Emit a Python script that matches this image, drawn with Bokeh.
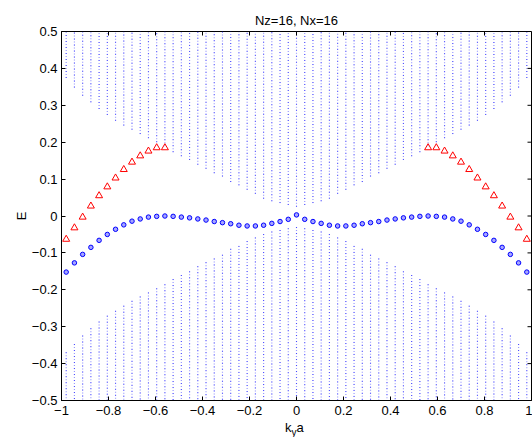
from bokeh.plotting import figure
from bokeh.layouts import column
from bokeh.models import FixedTicker, Range1d, ColumnDataSource, Div
from bokeh.embed import file_html
from bokeh.resources import INLINE

# k_y a sample points (57 columns)
K = [-0.98, -0.945, -0.91, -0.875, -0.84, -0.805, -0.77, -0.735, -0.70, -0.665,
     -0.63, -0.595, -0.56, -0.525, -0.49, -0.455, -0.42, -0.385, -0.35, -0.315,
     -0.28, -0.245, -0.21, -0.175, -0.14, -0.105, -0.07, -0.035, 0.0,
     0.035, 0.07, 0.105, 0.14, 0.175, 0.21, 0.245, 0.28, 0.315, 0.35,
     0.385, 0.42, 0.455, 0.49, 0.525, 0.56, 0.595, 0.63, 0.665, 0.70,
     0.735, 0.77, 0.805, 0.84, 0.875, 0.91, 0.945, 0.98]

# lower edge of the upper bulk continuum at each k
UPPER_BAND_EDGE = [0.374, 0.348, 0.326, 0.308, 0.290, 0.274, 0.258, 0.245, 0.234, 0.222,
                   0.211, 0.200, 0.189, 0.173, 0.162, 0.152, 0.139, 0.128, 0.116, 0.107,
                   0.092, 0.083, 0.071, 0.060, 0.047, 0.040, 0.035, 0.030, 0.025,
                   0.030, 0.035, 0.040, 0.047, 0.060, 0.071, 0.083, 0.092, 0.107, 0.116,
                   0.128, 0.139, 0.152, 0.162, 0.173, 0.189, 0.200, 0.211, 0.222, 0.234,
                   0.245, 0.258, 0.274, 0.290, 0.308, 0.326, 0.348, 0.374]

# upper edge of the lower bulk continuum at each k
LOWER_BAND_EDGE = [-0.369, -0.347, -0.324, -0.304, -0.286, -0.270, -0.257, -0.243, -0.230, -0.218,
                   -0.207, -0.196, -0.185, -0.171, -0.160, -0.150, -0.136, -0.125, -0.115, -0.105,
                   -0.089, -0.081, -0.068, -0.058, -0.049, -0.042, -0.038, -0.033, -0.030,
                   -0.033, -0.038, -0.042, -0.049, -0.058, -0.068, -0.081, -0.089, -0.105, -0.115,
                   -0.125, -0.136, -0.150, -0.160, -0.171, -0.185, -0.196, -0.207, -0.218, -0.230,
                   -0.243, -0.257, -0.270, -0.286, -0.304, -0.324, -0.347, -0.369]

# edge state (blue circles)
EDGE_CIRCLE_E = [-0.152, -0.127, -0.104, -0.085, -0.066, -0.050, -0.036, -0.024, -0.014, -0.008,
                 -0.003, -0.001, 0.000, -0.001, -0.003, -0.005, -0.008, -0.011, -0.015, -0.018,
                 -0.021, -0.025, -0.027, -0.027, -0.025, -0.020, -0.015, -0.009, 0.003,
                 -0.009, -0.015, -0.020, -0.025, -0.027, -0.027, -0.025, -0.021, -0.018, -0.015,
                 -0.011, -0.008, -0.005, -0.003, -0.001, 0.000, -0.001, -0.003, -0.008, -0.014,
                 -0.024, -0.036, -0.050, -0.066, -0.085, -0.104, -0.127, -0.152]

# edge state (red triangles)
TRI_K = [-0.98, -0.945, -0.91, -0.875, -0.84, -0.805, -0.77, -0.735, -0.70, -0.665,
         -0.63, -0.595, -0.56,
         0.56, 0.595, 0.63, 0.665, 0.70, 0.735, 0.77, 0.805, 0.84, 0.875,
         0.91, 0.945, 0.98]
TRI_E = [-0.063, -0.032, -0.003, 0.027, 0.055, 0.079, 0.103, 0.126, 0.146, 0.163,
         0.176, 0.185, 0.185,
         0.185, 0.185, 0.176, 0.163, 0.146, 0.126, 0.103, 0.079, 0.055, 0.027,
         -0.003, -0.032, -0.063]

X_TICKS = [-1, -0.8, -0.6, -0.4, -0.2, 0, 0.2, 0.4, 0.6, 0.8, 1]
X_TICK_LABELS = ["\u22121", "\u22120.8", "\u22120.6", "\u22120.4", "\u22120.2", "0",
                 "0.2", "0.4", "0.6", "0.8", "1"]
Y_TICKS = [-0.5, -0.4, -0.3, -0.2, -0.1, 0, 0.1, 0.2, 0.3, 0.4, 0.5]
Y_TICK_LABELS = ["\u22120.5", "\u22120.4", "\u22120.3", "\u22120.2", "\u22120.1", "0",
                 "0.1", "0.2", "0.3", "0.4", "0.5"]

X_MIN, X_MAX = -1, 1
E_MIN, E_MAX = -0.5, 0.5
TITLE = "Nz=16, Nx=16"
Y_LABEL = "E"

FONT = "Liberation Sans"

FIG_W, FIG_H = 532, 420
B_LEFT, B_RIGHT, B_TOP, B_BOTTOM = 61, 1, 31, 20
FRAME_W = FIG_W - B_LEFT - B_RIGHT
FRAME_H = FIG_H - B_TOP - B_BOTTOM
TICK_PX = 4

p = figure(width=FIG_W, height=FIG_H, output_backend="svg", toolbar_location=None,
           x_range=Range1d(X_MIN, X_MAX), y_range=Range1d(E_MIN, E_MAX),
           min_border_left=B_LEFT, min_border_right=B_RIGHT,
           min_border_top=B_TOP, min_border_bottom=B_BOTTOM)
p.xgrid.visible = False
p.ygrid.visible = False
p.outline_line_color = "black"
p.outline_line_width = 1
p.outline_line_alpha = 1
p.background_fill_color = "white"
p.border_fill_color = "white"

p.title.text = TITLE
p.title.align = "center"
p.title.text_font = FONT
p.title.text_font_size = "13px"
p.title.text_font_style = "normal"
p.title.text_color = "black"
p.title.standoff = 8

blue = "#0000ff"
upper_src = ColumnDataSource(dict(x=K, y0=UPPER_BAND_EDGE, y1=[E_MAX] * len(K)))
lower_src = ColumnDataSource(dict(x=K, y0=LOWER_BAND_EDGE, y1=[E_MIN] * len(K)))
for src in (upper_src, lower_src):
    p.segment(x0="x", y0="y0", x1="x", y1="y1", source=src,
              line_color=blue, line_alpha=0.4, line_width=1.2, line_dash="1 2")
    p.segment(x0="x", y0="y0", x1="x", y1="y1", source=src,
              line_color=blue, line_alpha=0.55, line_width=1, line_dash="1 5")

p.scatter(K, EDGE_CIRCLE_E, marker="circle", size=4.5, line_color=blue, line_width=1,
          fill_color=blue, fill_alpha=0.35)
p.scatter(TRI_K, TRI_E, marker="triangle", size=7, line_color="red", line_width=1,
          fill_color="white", fill_alpha=0.6)

# inward ticks on the top and right sides of the box (MATLAB "box on")
dx = TICK_PX * (X_MAX - X_MIN) / FRAME_W
dy = TICK_PX * (E_MAX - E_MIN) / FRAME_H
p.segment(x0=X_TICKS, y0=[E_MAX] * len(X_TICKS), x1=X_TICKS, y1=[E_MAX - dy] * len(X_TICKS),
          line_color="black", line_width=1)
p.segment(x0=[X_MAX] * len(Y_TICKS), y0=Y_TICKS, x1=[X_MAX - dx] * len(Y_TICKS), y1=Y_TICKS,
          line_color="black", line_width=1)

def style_axis(ax, ticks, labels):
    ax.ticker = FixedTicker(ticks=ticks)
    ax.major_label_overrides = {t: l for t, l in zip(ticks, labels)}
    ax.major_tick_in = TICK_PX
    ax.major_tick_out = 0
    ax.minor_tick_line_color = None
    ax.major_tick_line_color = "black"
    ax.axis_line_color = "black"
    ax.major_label_text_font = FONT
    ax.major_label_text_font_size = "13px"
    ax.major_label_text_color = "black"

style_axis(p.xaxis[0], X_TICKS, X_TICK_LABELS)
style_axis(p.yaxis[0], Y_TICKS, Y_TICK_LABELS)
p.xaxis[0].major_label_standoff = 5
p.yaxis[0].major_label_standoff = 4
p.yaxis[0].axis_label = Y_LABEL
p.yaxis[0].axis_label_text_font = FONT
p.yaxis[0].axis_label_text_font_style = "normal"
p.yaxis[0].axis_label_text_font_size = "13px"
p.yaxis[0].axis_label_text_color = "black"
p.yaxis[0].axis_label_standoff = 0

xlabel = Div(
    text=('<div style="position:relative; left:285px; top:0px; white-space:nowrap; '
          'font-family:\'Liberation Sans\'; font-size:13px; line-height:13px; color:black;">'
          'k<sub style="font-size:10px; line-height:0; vertical-align:-4px;">y</sub>a</div>'),
    width=FIG_W, height=437 - FIG_H, margin=(0, 0, 0, 0))

layout = column(p, xlabel, spacing=0)

open("out.html", "w").write(file_html(layout, INLINE))
